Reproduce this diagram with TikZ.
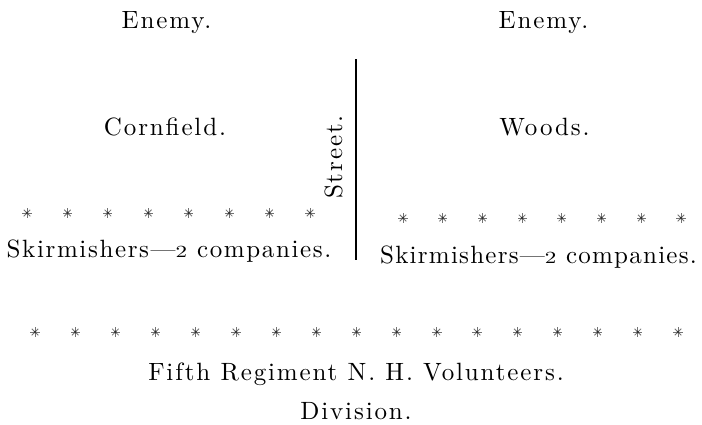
\documentclass[tikz,border=0pt]{standalone}
\usepackage{fontspec}
\usepackage{graphicx}
\newfontfamily\diagfont{lmroman10-regular.otf}[LetterSpace=7.5]
\newfontfamily\diagfontL{lmroman10-regular.otf}[LetterSpace=6.5]
\newfontfamily\diagfontR{lmroman10-regular.otf}[LetterSpace=5]
\newcommand{\oldtwo}{\scalebox{0.92}[0.68]{2}}
\tikzset{
  lbl/.style={anchor=base, inner sep=0pt, text=black,
    font={\diagfont\fontsize{25}{29}\selectfont}},
  lblL/.style={lbl, font={\diagfontL\fontsize{25}{29}\selectfont}},
  lblR/.style={lbl, font={\diagfontR\fontsize{25}{29}\selectfont}},
  starmark/.style={circle, inner sep=0pt, minimum size=11pt,
    path picture={
      \foreach \a in {0,45,...,315}{\draw[line width=0.85pt, black!55] (path picture bounding box.center) -- ++(\a:4.6pt);}
      \fill[black!80] (path picture bounding box.center) circle (1.4pt);}},
  streetline/.style={line width=2pt, black}
}
\begin{document}
\begin{tikzpicture}[x=1pt, y=-1pt]
\useasboundingbox (0,0) rectangle (702,424);
% titles
\node[lbl] (enemyL) at (166.5,28) {Enemy.};
\node[lbl] (enemyR) at (543.5,28) {Enemy.};
\node[lbl] (corn) at (165,135) {Cornfield.};
\node[lbl] (woods) at (544.5,135) {Woods.};
\node[lbl, rotate=90] (street) at (342,157) {Street.};
% street line
\coordinate (stTop) at (356,59);
\coordinate (stBot) at (356,260);
\draw[streetline] (stTop) -- (stBot);
% skirmishers
\foreach \i in {0,...,7}{\node[starmark] (ls\i) at ({27+40.43*\i},213) {};}
\foreach \i in {0,...,7}{\node[starmark] (rs\i) at ({403+39.71*\i},218) {};}
\node[lblL] (skirmL) at (169,257) {Skirmishers—\oldtwo\ companies.};
\node[lblR] (skirmR) at (538.5,263) {Skirmishers—\oldtwo\ companies.};
% regiment
\foreach \i in {0,...,16}{\node[starmark] (bs\i) at ({35+40.19*\i},332) {};}
\node[lbl] (fifth) at (356,380) {Fifth Regiment N. H. Volunteers.};
\node[lbl, text depth=0pt] (division) at (356,419) {Division.};
\end{tikzpicture}
\end{document}
